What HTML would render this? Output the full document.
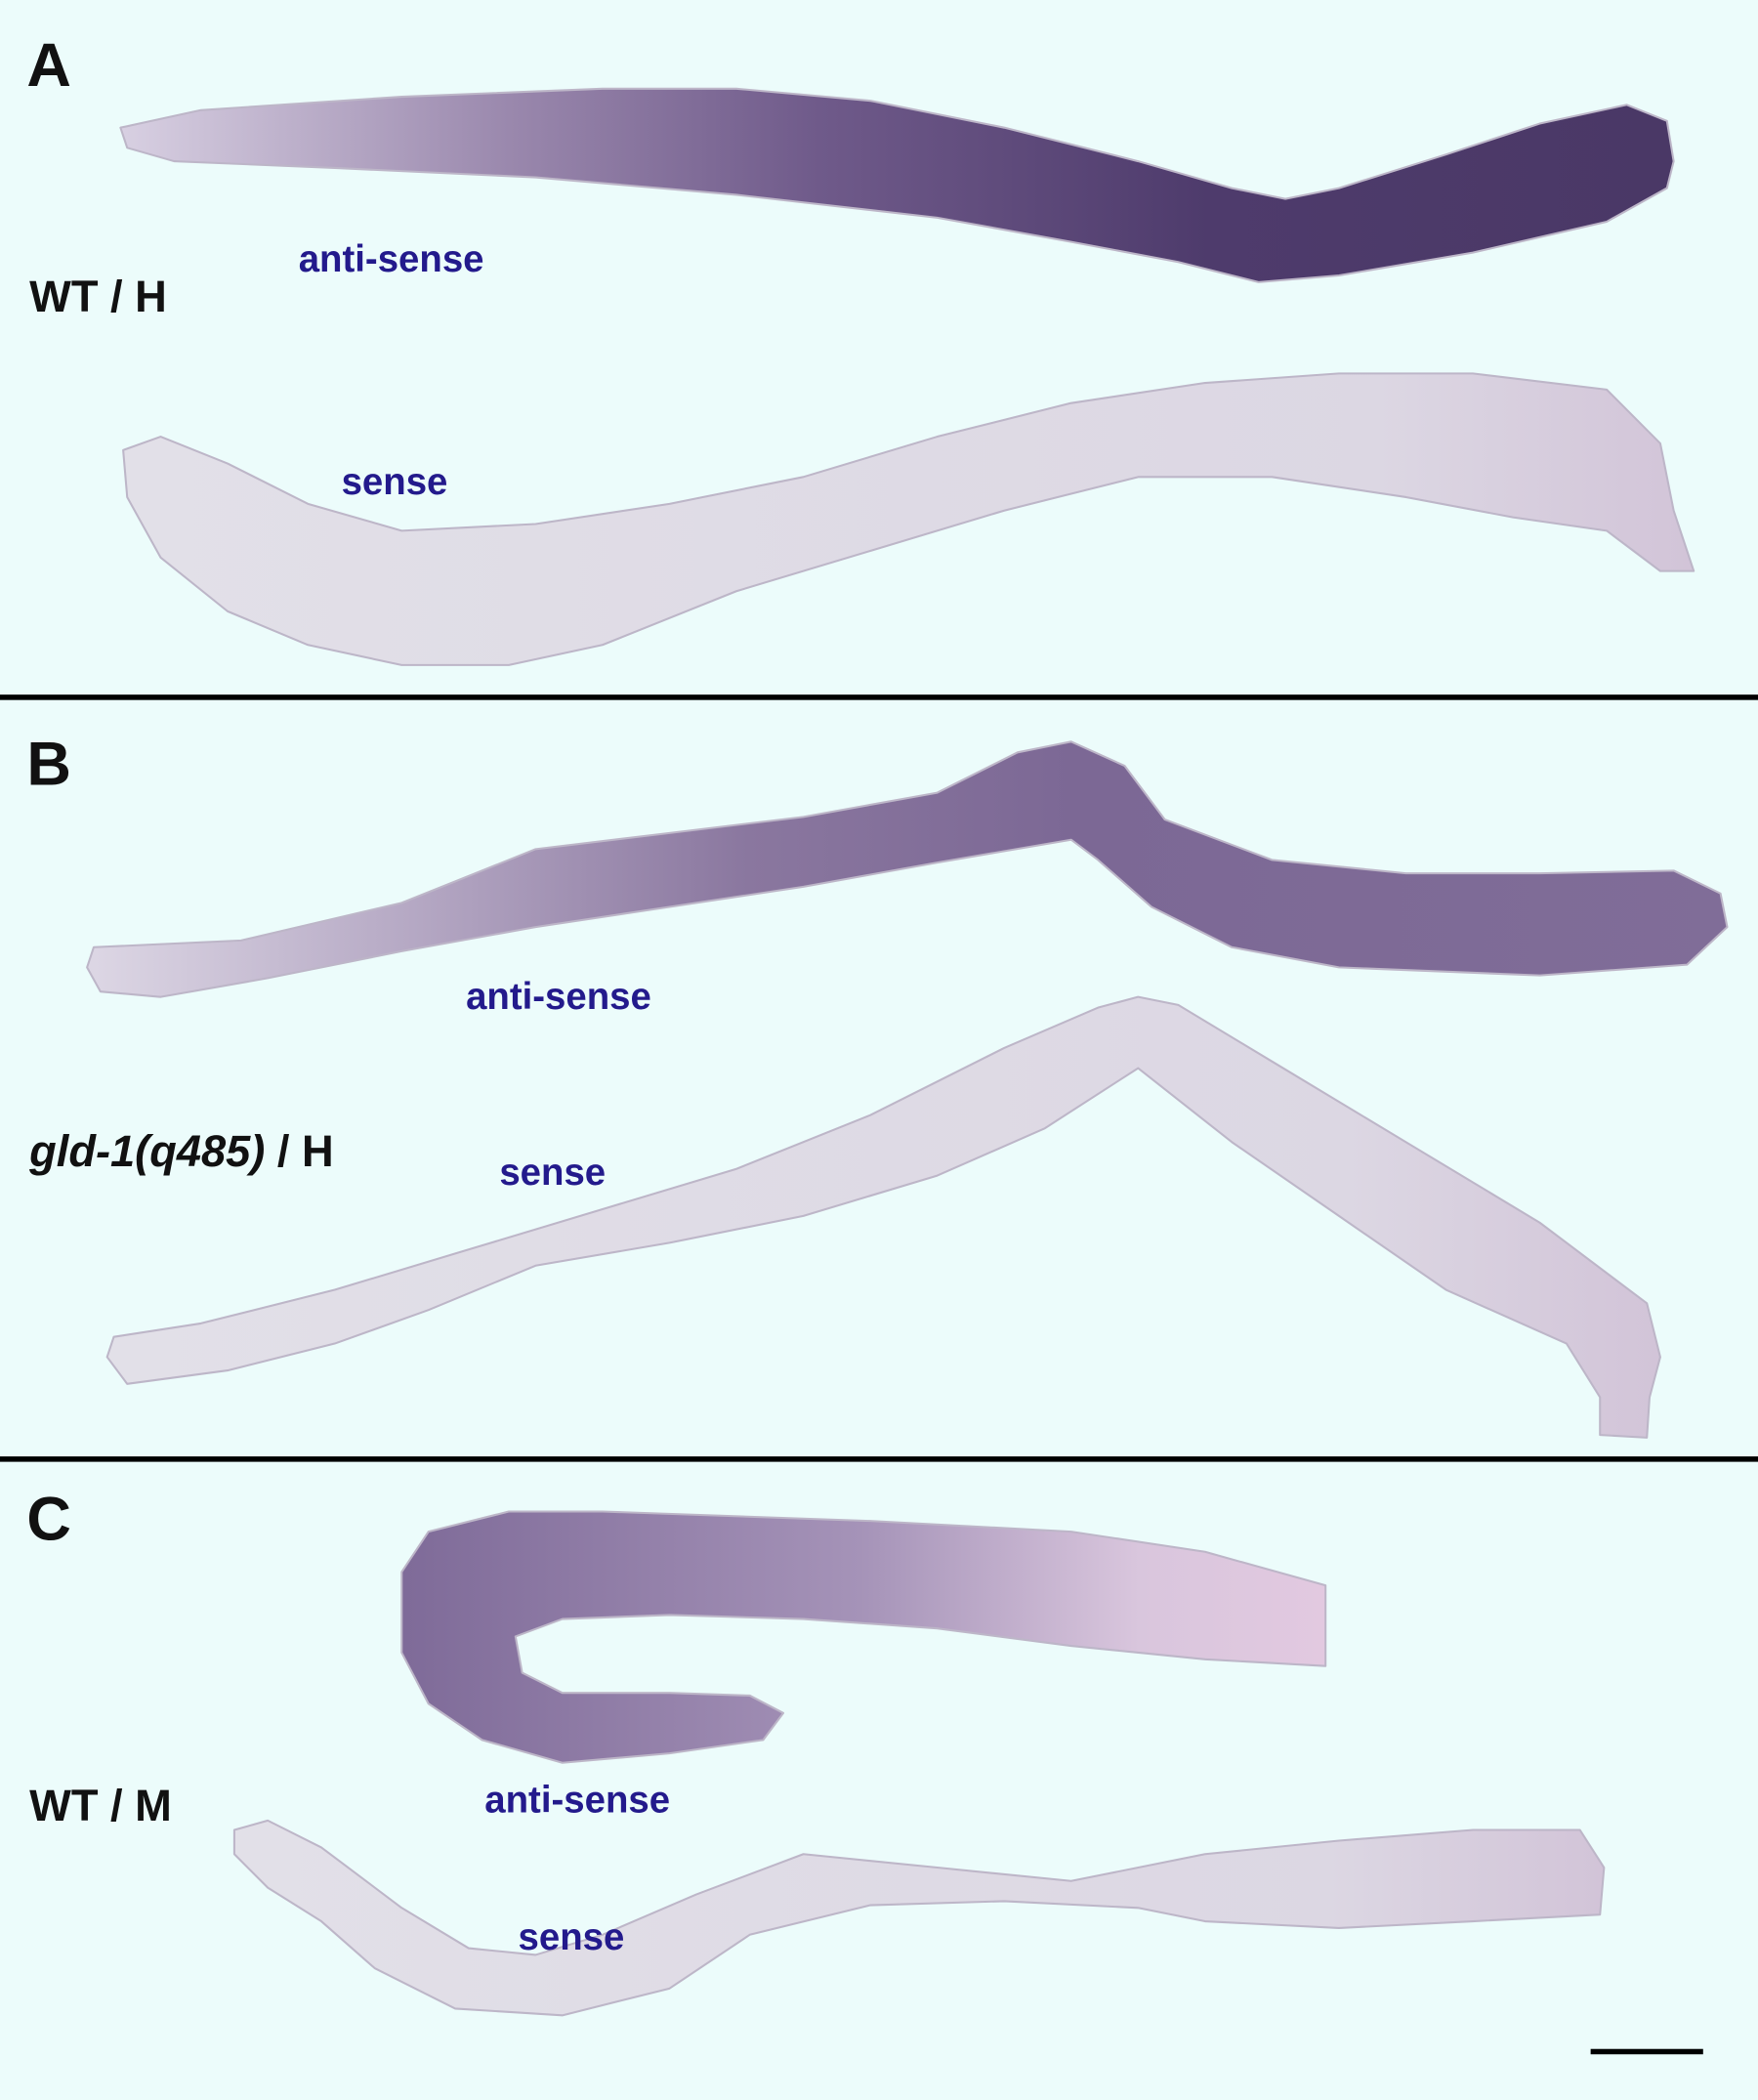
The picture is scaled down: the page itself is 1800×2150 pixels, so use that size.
<!DOCTYPE html>
<html><head><meta charset="utf-8"><style>
html,body{margin:0;padding:0;background:#ecfcfb;}
svg{display:block;}
text{font-family:"Liberation Sans",sans-serif;}
</style></head><body>
<svg width="1800" height="2150" viewBox="0 0 1313 1563" preserveAspectRatio="none">
<defs>
<linearGradient id="gA" x1="90" y1="0" x2="1250" y2="0" gradientUnits="userSpaceOnUse">
<stop offset="0" stop-color="#d8d0e2"/><stop offset="0.25" stop-color="#9a88ad"/><stop offset="0.45" stop-color="#6f5a8a"/><stop offset="0.7" stop-color="#4e3b6c"/><stop offset="1" stop-color="#4a3866"/></linearGradient>
<linearGradient id="gB" x1="70" y1="0" x2="1290" y2="0" gradientUnits="userSpaceOnUse">
<stop offset="0" stop-color="#dcd6e4"/><stop offset="0.2" stop-color="#b4a7c3"/><stop offset="0.4" stop-color="#8a779f"/><stop offset="0.6" stop-color="#7c6895"/><stop offset="1" stop-color="#806d98"/></linearGradient>
<linearGradient id="gC" x1="295" y1="0" x2="990" y2="0" gradientUnits="userSpaceOnUse">
<stop offset="0" stop-color="#7e6a98"/><stop offset="0.5" stop-color="#a593b8"/><stop offset="0.8" stop-color="#d9c6dd"/><stop offset="1" stop-color="#e2c9e0"/></linearGradient>
<linearGradient id="gS" x1="0" y1="0" x2="1" y2="0">
<stop offset="0" stop-color="#e2e0e8"/><stop offset="0.8" stop-color="#dcd7e3"/><stop offset="1" stop-color="#d2c4d8"/></linearGradient>
</defs>
<rect x="0" y="0" width="1313" height="1563" fill="#ecfcfb"/>
<g stroke="#bdb6c8" stroke-width="1.5" stroke-linejoin="round">
<polygon fill="url(#gA)" points="90,95 150,82 300,72 450,66 550,66 650,75 750,95 850,120 920,140 960,148 1000,140 1080,115 1150,92 1215,78 1245,90 1250,120 1245,140 1200,165 1100,188 1000,205 940,210 880,195 800,180 700,162 550,145 400,132 250,125 130,120 95,110"/>
<polygon fill="url(#gS)" points="92,335 120,325 170,345 230,375 300,395 400,390 500,375 600,355 700,325 800,300 900,285 1000,278 1100,278 1200,290 1240,330 1250,380 1265,425 1240,425 1200,395 1130,385 1050,370 950,355 850,355 750,380 650,410 550,440 450,480 380,495 300,495 230,480 170,455 120,415 95,370"/>
<polygon fill="url(#gB)" points="70,705 180,700 300,672 400,632 500,620 600,608 700,590 760,560 800,552 840,570 870,610 950,640 1050,650 1150,650 1250,648 1285,665 1290,690 1260,718 1150,726 1000,720 920,705 860,675 820,640 800,625 700,642 600,660 500,675 400,690 300,708 200,728 120,742 75,738 65,720"/>
<polygon fill="url(#gS)" points="85,995 150,985 250,960 350,930 450,900 550,870 650,830 750,780 820,750 850,742 880,748 950,790 1050,850 1150,910 1230,970 1240,1010 1232,1040 1230,1070 1195,1068 1195,1040 1170,1000 1080,960 1000,905 920,850 850,795 780,840 700,875 600,905 500,925 400,942 320,975 250,1000 170,1020 95,1030 80,1010"/>
<polygon fill="url(#gC)" points="300,1170 320,1140 380,1125 450,1125 650,1132 800,1140 900,1155 990,1180 990,1240 900,1235 800,1225 700,1212 600,1205 500,1202 420,1205 385,1218 390,1245 420,1260 500,1260 560,1262 585,1275 570,1295 500,1305 420,1312 360,1295 320,1268 300,1230"/>
<polygon fill="url(#gS)" points="175,1362 200,1355 240,1375 300,1420 350,1450 400,1455 450,1440 520,1410 600,1380 700,1390 800,1400 900,1380 1000,1370 1100,1362 1180,1362 1198,1390 1195,1425 1100,1430 1000,1435 900,1430 850,1420 750,1415 650,1418 560,1440 500,1480 420,1500 340,1495 280,1465 240,1430 200,1405 175,1380"/>
</g>
<rect x="0" y="517" width="1313" height="4" fill="#000"/>
<rect x="0" y="1084" width="1313" height="4" fill="#000"/>
<g font-weight="bold" font-size="46" fill="#111">
<text x="20" y="64">A</text>
<text x="20" y="584">B</text>
<text x="20" y="1146">C</text>
</g>
<g font-size="33" font-weight="bold" fill="#111">
<text x="22" y="232">WT / H</text>
<text x="22" y="868"><tspan font-style="italic">gld-1(q485)</tspan> / H</text>
<text x="22" y="1355">WT / M</text>
</g>
<g font-size="28" font-weight="bold" fill="#231a8c">
<text x="223" y="202">anti-sense</text>
<text x="255" y="368">sense</text>
<text x="348" y="751">anti-sense</text>
<text x="373" y="882">sense</text>
<text x="362" y="1349">anti-sense</text>
<text x="387" y="1451">sense</text>
</g>
<rect x="1188" y="1525" width="84" height="4" fill="#000"/>
</svg>
</body></html>
